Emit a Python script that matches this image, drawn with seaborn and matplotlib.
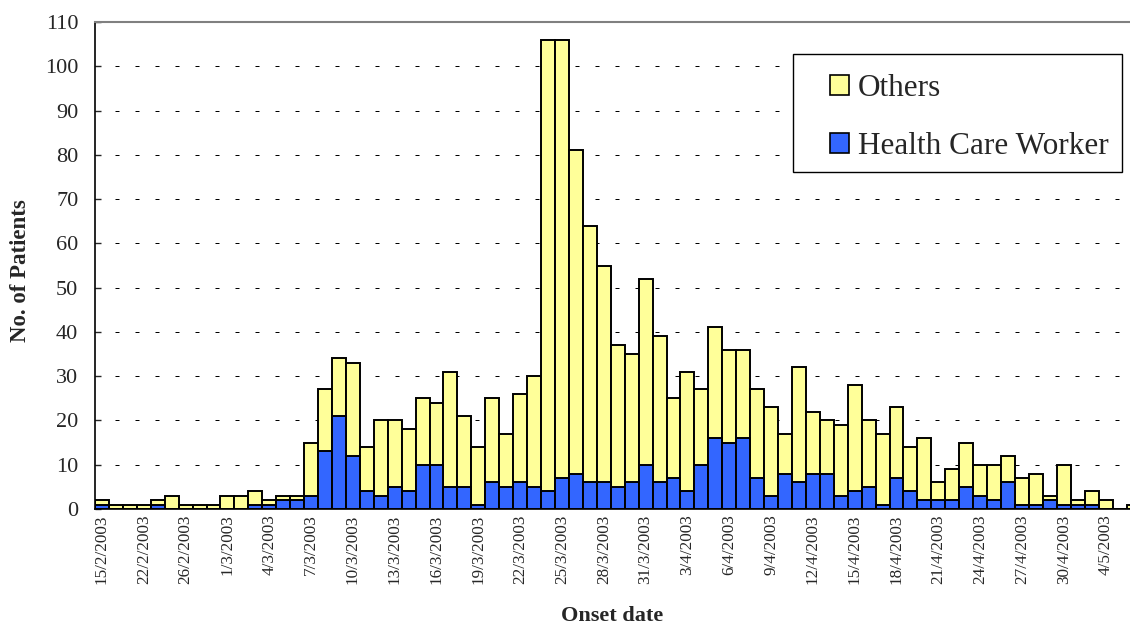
import matplotlib
matplotlib.use("Agg")
import matplotlib.pyplot as plt
from matplotlib.patches import Patch, Rectangle
import pandas as pd
import seaborn as sns

# onset dates (category axis, days without cases are skipped)
feb_dates = ["15/2/2003", "19/2/2003", "20/2/2003", "22/2/2003", "23/2/2003",
             "24/2/2003", "26/2/2003", "27/2/2003", "28/2/2003"]
mar_dates = [f"{d}/3/2003" for d in range(1, 32)]
apr_dates = [f"{d}/4/2003" for d in range(1, 31)]
may_dates = ["1/5/2003", "2/5/2003", "4/5/2003", "5/5/2003", "6/5/2003"]
dates = feb_dates + mar_dates + apr_dates + may_dates

# total patients per onset day
total = [2, 1, 1, 1, 2, 3, 1, 1, 1,
         3, 3, 4, 2, 3, 3, 15, 27, 34, 33,
         14, 20, 20, 18, 25, 24, 31, 21, 14, 25,
         17, 26, 30, 106, 106, 81, 64, 55, 37, 35,
         52,
         39, 25, 31, 27, 41, 36, 36, 27, 23, 17,
         32, 22, 20, 19, 28, 20, 17, 23, 14, 16,
         6, 9, 15, 10, 10, 12, 7, 8, 3, 10,
         2, 4, 2, 0, 1]

# health care workers among them
hcw = [1, 0, 0, 0, 1, 0, 0, 0, 0,
       0, 0, 1, 1, 2, 2, 3, 13, 21, 12,
       4, 3, 5, 4, 10, 10, 5, 5, 1, 6,
       5, 6, 5, 4, 7, 8, 6, 6, 5, 6,
       10,
       6, 7, 4, 10, 16, 15, 16, 7, 3, 8,
       6, 8, 8, 3, 4, 5, 1, 7, 4, 2,
       2, 2, 5, 3, 2, 6, 1, 1, 2, 1,
       1, 1, 0, 0, 0]

series_names = ["Others", "Health Care Worker"]
colors = ["#FFFF99", "#3366FF"]

df = pd.DataFrame({"date": dates, "total": total, "hcw": hcw})

sns.set_style("white")
plt.rcParams["font.family"] = ["Liberation Serif", "DejaVu Serif"]

W, H = 1130, 626
fig = plt.figure(figsize=(W / 100, H / 100), dpi=100)
ax = fig.add_axes([95 / W, 117 / H, 1035 / W, 487 / H])

# stacked look: full total in yellow, HCW drawn over the bottom in blue
sns.barplot(data=df, x="date", y="total", order=dates, color=colors[0],
            saturation=1, width=1, edgecolor="black", linewidth=1.4,
            errorbar=None, ax=ax)
sns.barplot(data=df, x="date", y="hcw", order=dates, color=colors[1],
            saturation=1, width=1, edgecolor="black", linewidth=1.4,
            errorbar=None, ax=ax)

ax.set_xlim(-0.5, 73.75)
ax.set_ylim(0, 110)
ax.set_yticks(range(0, 111, 10))
ax.set_xticks(range(0, len(dates), 3))
ax.set_xticklabels(dates[::3], rotation=90, ha="center", va="top")

ax.set_axisbelow(True)
ax.yaxis.grid(True, color="black", linestyle=(0, (4, 16)), linewidth=0.72)
ax.xaxis.grid(False)

ax.spines["top"].set_color("#808080")
ax.spines["top"].set_linewidth(1.5)
ax.spines["right"].set_visible(False)
for s in ["left", "bottom"]:
    ax.spines[s].set_color("black")
    ax.spines[s].set_linewidth(1.2)

ax.tick_params(axis="y", direction="in", length=4, width=1, pad=12,
               labelsize=16, left=True)
ax.tick_params(axis="x", length=0, pad=4, labelsize=12.3)

ax.set_xlabel("Onset date", fontsize=16, fontweight="bold")
ax.xaxis.set_label_coords(0.5, -0.2)
ax.set_ylabel("No. of Patients", fontsize=16.5, fontweight="bold")
ax.yaxis.set_label_coords(-0.062, 0.49)

# legend box (Excel style, wide left margin) + frameless legend inside
ax.add_patch(Rectangle((793 / W, 1 - 172 / H), (1122 - 793) / W, 118 / H,
                       transform=fig.transFigure, facecolor="white",
                       edgecolor="black", linewidth=1.0, zorder=5,
                       clip_on=False))
handles = [Patch(facecolor=c, edgecolor="black", linewidth=1.2) for c in colors]
leg = ax.legend(handles, series_names, loc="upper left",
                bbox_to_anchor=(830 / W, 1 - 74 / H),
                bbox_transform=fig.transFigure, borderaxespad=0, borderpad=0,
                fontsize=22.5, frameon=False,
                handlelength=0.6, handleheight=0.6, handletextpad=0.3,
                labelspacing=0.92)
leg.set_zorder(6)

fig.savefig("out.png", dpi=100)
